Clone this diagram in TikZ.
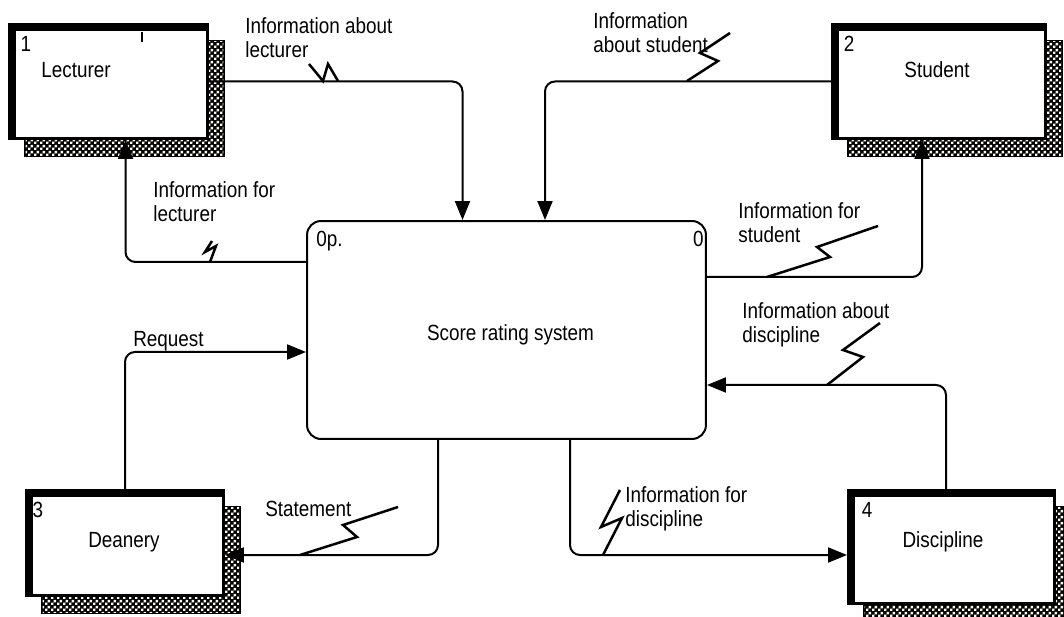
\documentclass[tikz,border=0pt]{standalone}
\usepackage{fontspec}
\setmainfont{Liberation Sans}[FakeStretch=0.86]
\usetikzlibrary{arrows.meta,calc,patterns,shadows}

\definecolor{cream}{RGB}{253,250,236}

\pgfdeclarepatternformonly{finechecks}{\pgfpointorigin}{\pgfpoint{3.2pt}{3.2pt}}{\pgfpoint{3.2pt}{3.2pt}}{
  \pgfpathrectangle{\pgfpointorigin}{\pgfpoint{1.5pt}{1.5pt}}
  \pgfpathrectangle{\pgfpoint{1.6pt}{1.6pt}}{\pgfpoint{1.5pt}{1.5pt}}
  \pgfusepath{fill}
}

\tikzset{
  entity/.style={draw, line width=0.06cm, fill=white, inner sep=0pt,
    general shadow={fill=black, draw=black, line width=0.05cm,
      shadow xshift=0.32cm, shadow yshift=-0.34cm},
    general shadow={pattern=finechecks, pattern color=cream,
      shadow xshift=0.32cm, shadow yshift=-0.34cm},
    path picture={
      \fill[black] (path picture bounding box.north west) rectangle
        ([xshift=0.13cm]path picture bounding box.south west);
      \fill[black] (path picture bounding box.north west) rectangle
        ([yshift=-0.13cm]path picture bounding box.north east);
    }},
  process/.style={draw, line width=0.04cm, rounded corners=0.28cm, fill=white,
    minimum width=7.98cm, minimum height=4.36cm},
  flow/.style={line width=0.04cm, rounded corners=0.2cm,
    -{Triangle[length=0.38cm,width=0.3cm]}},
  zig/.style={line width=0.05cm},
  lbl/.style={inner sep=0pt, align=left, font=\fontsize{12.5}{13.6}\selectfont},
}

\begin{document}
\begin{tikzpicture}[x=0.02cm,y=-0.02cm]

\useasboundingbox (0,0) rectangle (1064,617);

% External entities
\node[entity, minimum width=3.96cm, minimum height=2.28cm] (lecturer) at (108.5,81.5) {};
\node[entity, minimum width=4.26cm, minimum height=2.28cm] (student) at (939,81.5) {};
\node[entity, minimum width=3.94cm, minimum height=2.10cm] (deanery) at (125,543) {};
\node[entity, minimum width=4.12cm, minimum height=2.26cm] (discipline) at (951.5,547) {};

\draw[line width=0.04cm] (142,32) -- (142,42);

\node[lbl, anchor=base] (lecno) at (26,52) {1};
\node[lbl, anchor=base] (lecname) at (76,78) {Lecturer};
\node[lbl, anchor=base] (stdno) at (849,52) {2};
\node[lbl, anchor=base] (stdname) at (937,78) {Student};
\node[lbl, anchor=base] (deano) at (38,518) {3};
\node[lbl, anchor=base] (deaname) at (124,547) {Deanery};
\node[lbl, anchor=base] (disno) at (867,518) {4};
\node[lbl, anchor=base] (disname) at (943,547) {Discipline};

% Process
\node[process] (scoring) at (506.5,330) {};
\node[lbl, anchor=base west] (procid) at (316,247) {0p.};
\node[lbl, anchor=base east] (procno) at (704,247) {0};
\node[lbl, anchor=base] (sysname) at (510.5,341) {Score rating system};

% Data flows
\draw[flow] (lecturer.east) -| ($(scoring.north)+(-44,0)$);
\draw[flow] (student.west) -| ($(scoring.north)+(38.5,0)$);
\draw[flow] ($(scoring.west)+(0,-68)$) -| ($(lecturer.south)+(17,0)$);
\draw[flow] ($(scoring.east)+(0,-53)$) -| ($(student.south)+(-17,0)$);
\draw[flow] (deanery.north) |- ($(scoring.west)+(0,22)$);
\draw[flow] ($(scoring.south)+(-68.5,0)$) |- ($(deanery.east)+(0,12)$);
\draw[flow] ($(scoring.south)+(63.5,0)$) |- ($(discipline.west)+(0,8)$);
\draw[flow] ($(discipline.north)+(-5.5,0)$) |- ($(scoring.east)+(0,55)$);

% Flow labels
\node[lbl, anchor=north west] (lecin) at (245,17) {Information about\\lecturer};
\node[lbl, anchor=north west] (stdin) at (593,12) {Information\\about student};
\node[lbl, anchor=north west] (lecout) at (153,181) {Information for\\lecturer};
\node[lbl, anchor=north west] (stdout) at (738,202) {Information for\\student};
\node[lbl, anchor=base west] (reqlbl) at (133,347) {Request};
\node[lbl, anchor=north west] (disin) at (742,302) {Information about\\discipline};
\node[lbl, anchor=base west] (stmlbl) at (265,517) {Statement};
\node[lbl, anchor=north west] (disout) at (625,486) {Information for\\discipline};

% Zigzags
\draw[zig] (309,64) -- (323,81) -- (328,64) -- (338,81);
\draw[zig] (687,81) -- (718,61) -- (700,53) -- (730,33);
\draw[zig] (210,262) -- (216,246) -- (205,252) -- (212,241);
\draw[zig] (767,277) -- (830,257) -- (817,247) -- (878,226);
\draw[zig] (300,555) -- (357,537) -- (343,525) -- (398,507);
\draw[zig] (603,555) -- (622,518) -- (601,527) -- (620,490);
\draw[zig] (827,385) -- (863,357) -- (843,350) -- (880,323);

\end{tikzpicture}
\end{document}
